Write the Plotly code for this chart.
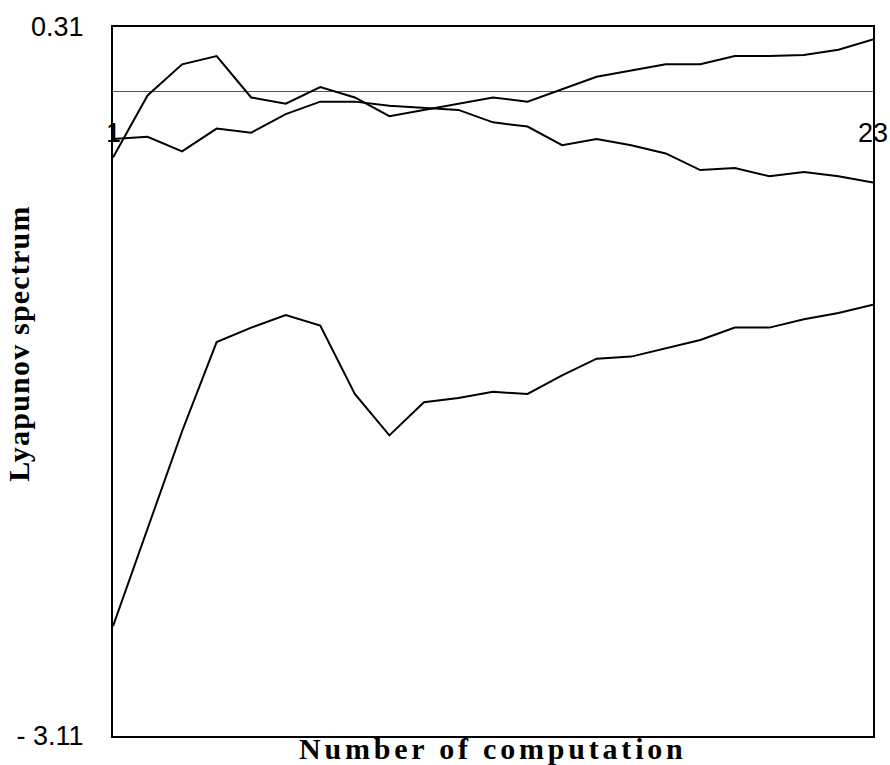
import plotly.graph_objects as go

computation = list(range(1, 24))

lyap_1 = [-0.32, -0.02, 0.13, 0.17, -0.03, -0.06, 0.02, -0.03, -0.12, -0.09, -0.06, -0.03,
          -0.05, 0.01, 0.07, 0.10, 0.13, 0.13, 0.17, 0.17, 0.175, 0.20, 0.25]
lyap_2 = [-0.23, -0.22, -0.29, -0.18, -0.20, -0.11, -0.05, -0.05, -0.07, -0.08, -0.09, -0.15,
          -0.17, -0.26, -0.23, -0.26, -0.30, -0.38, -0.37, -0.41, -0.39, -0.41, -0.44]
lyap_3 = [-2.58, -2.11, -1.64, -1.21, -1.14, -1.08, -1.13, -1.46, -1.66, -1.50, -1.48, -1.45,
          -1.46, -1.37, -1.29, -1.28, -1.24, -1.20, -1.14, -1.14, -1.10, -1.07, -1.03]

y_tick_vals = [-3.11, 0.31]
y_tick_text = ["- 3.11", "0.31"]
x_tick_vals = [1, 23]
x_tick_text = ["1", "23"]

fig = go.Figure()
for s in (lyap_1, lyap_2, lyap_3):
    fig.add_trace(go.Scatter(x=computation, y=s, mode="lines",
                             line=dict(color="black", width=2), showlegend=False,
                             hoverinfo="skip"))

annotations = []
for xv, xt in zip(x_tick_vals, x_tick_text):
    annotations.append(dict(x=xv, y=-0.2, xref="x", yref="y", text=xt, showarrow=False,
                            font=dict(family="Liberation Sans, Arial", size=27, color="black"),
                            xanchor="center", yanchor="middle"))
annotations.append(dict(x=0.5, y=-0.018, xref="paper", yref="paper",
                        text='<span style="letter-spacing:3.8px"><b>Number of computation</b></span>',
                        showarrow=False,
                        font=dict(family="Liberation Serif, Times New Roman", size=30, color="black"),
                        xanchor="center", yanchor="middle"))
annotations.append(dict(x=-0.124, y=0.553, xref="paper", yref="paper",
                        text='<span style="letter-spacing:1.2px"><b>Lyapunov spectrum</b></span>',
                        showarrow=False, textangle=-90,
                        font=dict(family="Liberation Serif, Times New Roman", size=30, color="black"),
                        xanchor="center", yanchor="middle"))

fig.update_layout(
    width=890, height=765,
    margin=dict(l=113, r=17, t=23, b=29),
    paper_bgcolor="white", plot_bgcolor="white",
    annotations=annotations,
    xaxis=dict(range=[1, 23], showgrid=False, zeroline=False, showticklabels=False,
               showline=True, linecolor="black", linewidth=2, mirror=True, ticks=""),
    yaxis=dict(range=[-3.11, 0.31], showgrid=False, zeroline=True, zerolinecolor="#555555",
               zerolinewidth=1, tickvals=y_tick_vals, ticktext=y_tick_text, ticks="",
               ticklabelstandoff=22,
               tickfont=dict(family="Liberation Sans, Arial", size=27, color="black"),
               showline=True, linecolor="black", linewidth=2, mirror=True),
)

fig.write_html("out.html")
